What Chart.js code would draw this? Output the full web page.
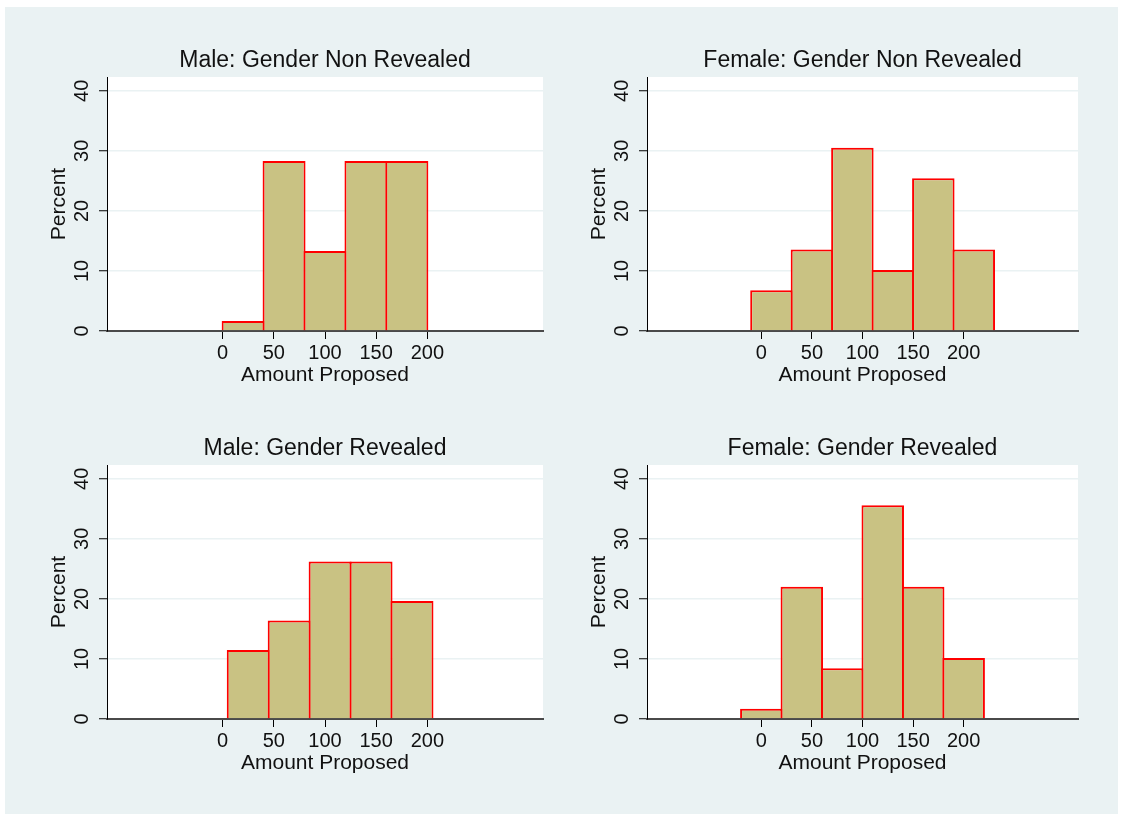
<!DOCTYPE html>
<html>
<head>
<meta charset="utf-8">
<title>Amount Proposed histograms</title>
<script src="https://cdn.jsdelivr.net/npm/chart.js@4.4.1/dist/chart.umd.min.js"></script>
<style>
    html, body { margin: 0; padding: 0; background: #fff; }
    body { width: 1121px; height: 817px; position: relative; overflow: hidden; }
    #bg { position: absolute; left: 5px; top: 7px; width: 1113px; height: 807px; background: #eaf2f3; }
    .panel { position: absolute; width: 560px; height: 390px; }
    .panel canvas { display: block; }
    #p0 { left: 0; top: 30px; }
    #p1 { left: 540px; top: 30px; }
    #p2 { left: 0; top: 418px; }
    #p3 { left: 540px; top: 418px; }
</style>
</head>
<body>
<div id="bg"></div>
<div class="panel" id="p0"><canvas id="c0" width="560" height="390"></canvas></div>
<div class="panel" id="p1"><canvas id="c1" width="560" height="390"></canvas></div>
<div class="panel" id="p2"><canvas id="c2" width="560" height="390"></canvas></div>
<div class="panel" id="p3"><canvas id="c3" width="560" height="390"></canvas></div>

<script>
// --- Data (percent per bin, bin edges in amount) ---
const panelTitles = [
    'Male: Gender Non Revealed',
    'Female: Gender Non Revealed',
    'Male: Gender Revealed',
    'Female: Gender Revealed'
];

const maleNonRevealedEdges = [0, 40, 80, 120, 160, 200];
const maleNonRevealedPct = [1.67, 28.33, 13.33, 28.33, 28.33];

const femaleNonRevealedEdges = [-10, 30, 70, 110, 150, 190, 230];
const femaleNonRevealedPct = [6.78, 13.56, 30.51, 10.17, 25.42, 13.56];

const maleRevealedEdges = [5, 45, 85, 125, 165, 205];
const maleRevealedPct = [11.48, 16.39, 26.23, 26.23, 19.67];

const femaleRevealedEdges = [-20, 20, 60, 100, 140, 180, 220];
const femaleRevealedPct = [1.69, 22.03, 8.47, 35.59, 22.03, 10.17];

const xTicks = [0, 50, 100, 150, 200];
const yTicks = [0, 10, 20, 30, 40];
const xRange = [-113, 313];
const yRange = [0, 42.3];

const xTitle = 'Amount Proposed';
const yTitle = 'Percent';

// --- Styling ---
const FONT = '"Liberation Sans", Arial, Helvetica, sans-serif';
const barFill = 'rgb(201, 194, 131)';
const barLine = 'rgb(255, 0, 0)';
const gridColor = '#eaf2f3';

// White plot region, like Stata's inner graph region
const plotBackground = {
    id: 'plotBackground',
    beforeDraw(chart) {
        const { ctx, chartArea } = chart;
        ctx.save();
        ctx.fillStyle = '#ffffff';
        ctx.fillRect(chartArea.left, chartArea.top, chartArea.right - chartArea.left, chartArea.bottom - chartArea.top);
        ctx.restore();
    }
};

/**
 * Builds one histogram panel.
 */
function renderPanel(canvasId, title, edges, pct, rightPad) {
    const points = pct.map((v, i) => ({ x: (edges[i] + edges[i + 1]) / 2, y: v }));

    return new Chart(document.getElementById(canvasId), {
        type: 'bar',
        data: {
            datasets: [{
                data: points,
                backgroundColor: barFill,
                borderColor: barLine,
                borderWidth: 2,
                borderSkipped: 'start',
                barPercentage: 1.05, // neighbouring bars share one outline
                categoryPercentage: 1
            }]
        },
        options: {
            responsive: false,
            animation: false,
            layout: { padding: { left: 0, top: 0, right: rightPad, bottom: 0 } },
            plugins: {
                legend: { display: false },
                tooltip: { enabled: false },
                title: {
                    display: true,
                    text: title,
                    fullSize: false,
                    color: '#111',
                    font: { family: FONT, size: 23, weight: 'normal' },
                    padding: { top: 16.4, bottom: 3 }
                }
            },
            scales: {
                x: {
                    type: 'linear',
                    offset: false,
                    min: xRange[0],
                    max: xRange[1],
                    z: 1,
                    afterBuildTicks: (scale) => { scale.ticks = xTicks.map(v => ({ value: v })); },
                    afterFit: (scale) => { scale.height = 89; },
                    grid: {
                        offset: false,
                        drawOnChartArea: false,
                        drawTicks: true,
                        tickLength: 8,
                        tickColor: '#000',
                        tickWidth: 1
                    },
                    border: { display: true, color: '#4a4a4a', width: 2 },
                    ticks: {
                        color: '#111',
                        padding: 2,
                        maxRotation: 0,
                        font: { family: FONT, size: 20 }
                    },
                    title: {
                        display: true,
                        text: xTitle,
                        color: '#111',
                        font: { family: FONT, size: 21 },
                        padding: { top: 0, bottom: 32 }
                    }
                },
                y: {
                    min: yRange[0],
                    max: yRange[1],
                    afterBuildTicks: (scale) => { scale.ticks = yTicks.map(v => ({ value: v })); },
                    afterFit: (scale) => { scale.width = 107; },
                    grid: {
                        color: (ctx) => (ctx.tick && ctx.tick.value === 0 ? 'rgba(0,0,0,0)' : gridColor),
                        lineWidth: 1.5,
                        drawTicks: true,
                        tickLength: 8,
                        tickColor: '#000',
                        tickWidth: 1
                    },
                    border: { display: true, color: '#000', width: 1 },
                    ticks: {
                        color: '#111',
                        padding: 5.5,
                        minRotation: 90,
                        maxRotation: 90,
                        crossAlign: 'center',
                        font: { family: FONT, size: 20 }
                    },
                    title: {
                        display: true,
                        text: yTitle,
                        color: '#111',
                        font: { family: FONT, size: 21 },
                        padding: { top: 46.2, bottom: 0 }
                    }
                }
            }
        },
        plugins: [plotBackground]
    });
}

renderPanel('c0', panelTitles[0], maleNonRevealedEdges, maleNonRevealedPct, 17);
renderPanel('c1', panelTitles[1], femaleNonRevealedEdges, femaleNonRevealedPct, 22);
renderPanel('c2', panelTitles[2], maleRevealedEdges, maleRevealedPct, 17);
renderPanel('c3', panelTitles[3], femaleRevealedEdges, femaleRevealedPct, 22);
</script>
</body>
</html>
